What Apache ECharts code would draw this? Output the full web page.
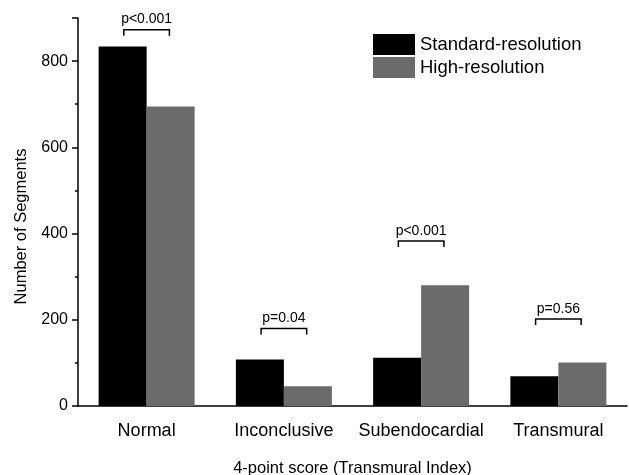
<!DOCTYPE html>
<html>
<head>
<meta charset="utf-8">
<script src="https://cdn.jsdelivr.net/npm/echarts@6/dist/echarts.min.js"></script>
<style>html,body{margin:0;padding:0;background:#fff}#c{width:629px;height:475px}</style>
</head>
<body>
<div id="c"></div>
<script>
const categories = ['Normal', 'Inconclusive', 'Subendocardial', 'Transmural'];
const standardRes = [834, 108, 112, 69];
const highRes = [695, 46, 280, 101];
const pLabels = ['p<0.001', 'p=0.04', 'p<0.001', 'p=0.56'];
const bracketY = [873, 180, 383, 202];

const chart = echarts.init(document.getElementById('c'));
const font = 'Arial, "Liberation Sans", sans-serif';
chart.setOption({
  animation: false,
  textStyle: { fontFamily: font },
  grid: { left: 78, right: 2, top: 18, bottom: 69, containLabel: false, outerBoundsMode: 'none' },
  legend: {
    data: ['Standard-resolution', 'High-resolution'],
    orient: 'vertical', left: 368, top: 29,
    itemWidth: 42, itemHeight: 21, itemGap: 2, icon: 'rect',
    textStyle: { fontSize: 18.5, color: '#000', fontFamily: font }
  },
  xAxis: {
    type: 'category', data: categories,
    name: '4-point score (Transmural Index)', nameLocation: 'middle', nameGap: 54,
    nameTextStyle: { fontSize: 16.5, color: '#000', fontFamily: font },
    axisLine: { lineStyle: { color: '#000', width: 1.5 } },
    axisTick: { alignWithLabel: true, length: 6, lineStyle: { color: '#000', width: 1.5 } },
    axisLabel: { interval: 0, fontSize: 18, color: '#000', margin: 16, fontFamily: font }
  },
  yAxis: {
    type: 'value', min: 0, max: 900, interval: 200,
    name: 'Number of Segments', nameLocation: 'middle', nameGap: 45,
    nameTextStyle: { fontSize: 16.5, color: '#000', fontFamily: font, padding: [0, 29, 0, 0] },
    axisLine: { show: true, lineStyle: { color: '#000', width: 1.5 } },
    axisTick: { show: true, length: 6, lineStyle: { color: '#000', width: 1.5 } },
    minorTick: { show: true, splitNumber: 2, length: 3, lineStyle: { color: '#000', width: 1.5 } },
    splitLine: { show: false },
    axisLabel: { fontSize: 16, color: '#000', margin: 10, fontFamily: font, showMaxLabel: false }
  },
  series: [
    { name: 'Standard-resolution', type: 'bar', data: standardRes, barWidth: 48, barGap: '0%',
      itemStyle: { color: '#000' } },
    { name: 'High-resolution', type: 'bar', data: highRes, barWidth: 48, barGap: '0%',
      itemStyle: { color: '#6b6b6b' } },
    { name: 'brackets', type: 'custom', silent: true,
      data: categories.map((c, i) => [i, bracketY[i], pLabels[i]]),
      renderItem: function (params, api) {
        const pt = api.coord([api.value(0), api.value(1)]);
        const bw = api.size([1, 0])[0];
        const half = bw * 0.166;
        const x = pt[0], y = pt[1];
        const label = pLabels[params.dataIndex];
        return {
          type: 'group',
          children: [
            { type: 'polyline', shape: { points: [[x - half, y + 6], [x - half, y], [x + half, y], [x + half, y + 6]] },
              style: { stroke: '#000', lineWidth: 1.5, fill: null } },
            { type: 'text', style: { text: label, x: x, y: y - 3, align: 'center', verticalAlign: 'bottom',
              fontSize: 14, fill: '#000', fontFamily: font } }
          ]
        };
      }
    }
  ]
});
</script>
</body>
</html>
